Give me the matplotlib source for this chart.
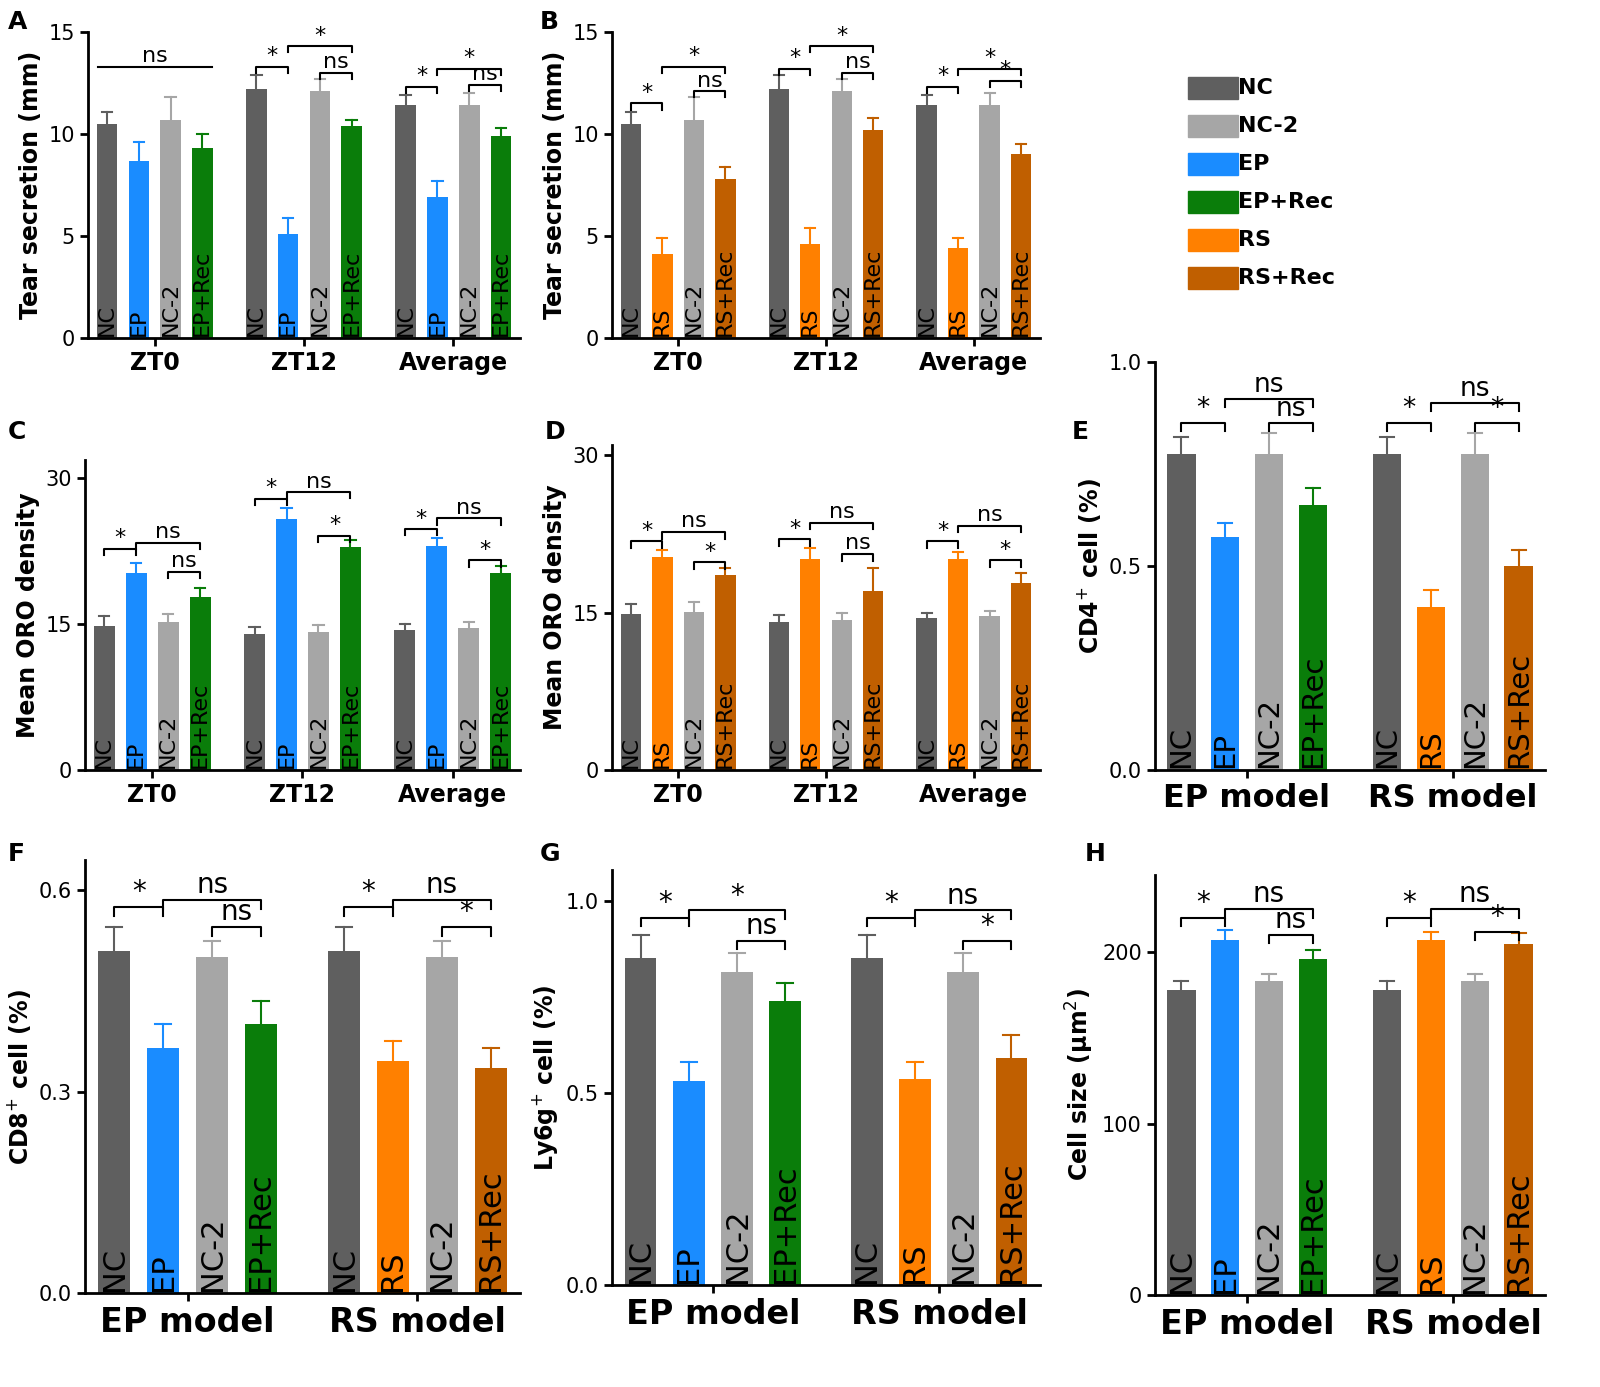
import numpy as np
import matplotlib
matplotlib.use("Agg")
import matplotlib.pyplot as plt

plt.rcParams['font.family'] = ['DejaVu Sans']

W, H = 1600, 1387

C_NC, C_NC2 = '#5f5f5f', '#a6a6a6'
C_EP, C_EPR = '#1a8cff', '#0a7d0a'
C_RS, C_RSR = '#ff8000', '#c05f00'

# ---- data ----
groups_zt = ['ZT0', 'ZT12', 'Average']
groups_model = ['EP model', 'RS model']
labels_ep = ['NC', 'EP', 'NC-2', 'EP+Rec']
labels_rs = ['NC', 'RS', 'NC-2', 'RS+Rec']

a_vals = [[10.5, 8.7, 10.7, 9.3], [12.2, 5.1, 12.1, 10.4], [11.4, 6.9, 11.4, 9.9]]
a_errs = [[0.6, 0.9, 1.1, 0.7], [0.7, 0.8, 0.6, 0.3], [0.5, 0.8, 0.6, 0.4]]
b_vals = [[10.5, 4.1, 10.7, 7.8], [12.2, 4.6, 12.1, 10.2], [11.4, 4.4, 11.4, 9.0]]
b_errs = [[0.6, 0.8, 1.1, 0.6], [0.7, 0.8, 0.6, 0.6], [0.5, 0.5, 0.6, 0.5]]
c_vals = [[14.8, 20.2, 15.2, 17.7], [13.9, 25.7, 14.2, 22.9], [14.4, 23.0, 14.6, 20.2]]
c_errs = [[1.0, 1.0, 0.8, 1.0], [0.8, 1.2, 0.7, 0.7], [0.6, 0.8, 0.6, 0.7]]
d_vals = [[14.9, 20.3, 15.1, 18.6], [14.1, 20.1, 14.3, 17.1], [14.5, 20.1, 14.7, 17.8]]
d_errs = [[0.9, 0.7, 0.9, 0.7], [0.7, 1.1, 0.7, 2.2], [0.5, 0.7, 0.5, 1.0]]
e_vals = [[0.775, 0.57, 0.775, 0.65], [0.775, 0.40, 0.775, 0.50]]
e_errs = [[0.04, 0.035, 0.05, 0.04], [0.04, 0.04, 0.05, 0.04]]
f_vals = [[0.51, 0.365, 0.50, 0.40], [0.51, 0.345, 0.50, 0.335]]
f_errs = [[0.035, 0.035, 0.025, 0.035], [0.035, 0.03, 0.025, 0.03]]
g_vals = [[0.85, 0.53, 0.815, 0.74], [0.85, 0.535, 0.815, 0.59]]
g_errs = [[0.06, 0.05, 0.05, 0.045], [0.06, 0.045, 0.05, 0.06]]
h_vals = [[178, 207, 183, 196], [178, 207, 183, 205]]
h_errs = [[5, 6, 4, 5], [5, 5, 4, 6]]

# brackets per group: (bar_i, bar_j, height, text)
a_br = [[(0, 3, 13.3, 'ns')],
        [(0, 1, 13.3, '*'), (1, 3, 14.3, '*'), (2, 3, 13.0, 'ns')],
        [(0, 1, 12.3, '*'), (1, 3, 13.2, '*'), (2, 3, 12.4, 'ns')]]
b_br = [[(0, 1, 11.5, '*'), (1, 3, 13.3, '*'), (2, 3, 12.1, 'ns')],
        [(0, 1, 13.2, '*'), (1, 3, 14.3, '*'), (2, 3, 13.0, 'ns')],
        [(0, 1, 12.3, '*'), (1, 3, 13.2, '*'), (2, 3, 12.6, '*')]]
c_br = [[(0, 1, 22.7, '*'), (1, 3, 23.3, 'ns'), (2, 3, 20.3, 'ns')],
        [(0, 1, 27.8, '*'), (1, 3, 28.5, 'ns'), (2, 3, 24.0, '*')],
        [(0, 1, 24.7, '*'), (1, 3, 25.8, 'ns'), (2, 3, 21.5, '*')]]
d_br = [[(0, 1, 21.8, '*'), (1, 3, 22.7, 'ns'), (2, 3, 19.8, '*')],
        [(0, 1, 22.0, '*'), (1, 3, 23.6, 'ns'), (2, 3, 20.6, 'ns')],
        [(0, 1, 21.8, '*'), (1, 3, 23.3, 'ns'), (2, 3, 20.0, '*')]]
e_br = [[(0, 1, 0.85, '*'), (1, 3, 0.91, 'ns'), (2, 3, 0.85, 'ns')],
        [(0, 1, 0.85, '*'), (1, 3, 0.90, 'ns'), (2, 3, 0.85, '*')]]
f_br = [[(0, 1, 0.575, '*'), (1, 3, 0.585, 'ns'), (2, 3, 0.545, 'ns')],
        [(0, 1, 0.575, '*'), (1, 3, 0.585, 'ns'), (2, 3, 0.545, '*')]]
g_br = [[(0, 1, 0.955, '*'), (1, 3, 0.975, '*'), (2, 3, 0.895, 'ns')],
        [(0, 1, 0.955, '*'), (1, 3, 0.975, 'ns'), (2, 3, 0.895, '*')]]
h_br = [[(0, 1, 220, '*'), (1, 3, 225, 'ns'), (2, 3, 210, 'ns')],
        [(0, 1, 220, '*'), (1, 3, 225, 'ns'), (2, 3, 212, '*')]]

fig = plt.figure(figsize=(W / 100, H / 100), dpi=100)


def add_ax(l, r, t, b):
    return fig.add_axes([l / W, 1 - b / H, (r - l) / W, (b - t) / H])


def panel(ax, vals, errs, label_sets, color_sets, groups, brs, ylim, yticks, ylabel,
          lab_fs, grp_fs, gpitch=4.7, bw=0.65, star_fs=16, tick_fs=15, yl_fs=17):
    for g, (v, e) in enumerate(zip(vals, errs)):
        xs = g * gpitch + np.arange(4)
        colors = color_sets[g]
        labels = label_sets[g]
        ax.bar(xs, v, width=bw, color=colors, zorder=2)
        for x, vv, ee, c, lb in zip(xs, v, e, colors, labels):
            ax.plot([x, x], [vv, vv + ee], color=c, lw=1.5, zorder=1)
            ax.plot([x - bw / 4, x + bw / 4], [vv + ee] * 2, color=c, lw=1.5)
            ax.text(x, ylim[1] * 0.005, lb, rotation=90, ha='center', va='bottom',
                    fontsize=lab_fs, color='black', zorder=3)
        d = (ylim[1] - ylim[0]) * 0.02
        for i, j, h, t in brs[g]:
            x1, x2 = xs[i], xs[j]
            if len(brs[g]) == 1:
                ax.plot([x1 - 0.3, x2 + 0.3], [h, h], color='black', lw=1.5, clip_on=False)
            else:
                ax.plot([x1, x1, x2, x2], [h - d, h, h, h - d], color='black', lw=1.5, clip_on=False)
            ax.text((x1 + x2) / 2, h + d * 0.1, t, ha='center', va='bottom',
                    fontsize=star_fs, clip_on=False)
    ax.set_xticks([g * gpitch + 1.5 for g in range(len(groups))])
    ax.set_xticklabels(groups, fontsize=grp_fs, fontweight='bold')
    ax.set_xlim(-0.6, (len(groups) - 1) * gpitch + 3.6)
    ax.set_ylim(*ylim)
    ax.set_yticks(yticks)
    ax.tick_params(axis='y', labelsize=tick_fs, width=2, length=6)
    ax.tick_params(axis='x', width=2, length=6)
    ax.set_ylabel(ylabel, fontsize=yl_fs, fontweight='bold')
    for s in ['top', 'right']:
        ax.spines[s].set_visible(False)
    for s in ['left', 'bottom']:
        ax.spines[s].set_linewidth(2)


ep_cols = [C_NC, C_EP, C_NC2, C_EPR]
rs_cols = [C_NC, C_RS, C_NC2, C_RSR]

axA = add_ax(88, 520, 32, 338)
panel(axA, a_vals, a_errs, [labels_ep] * 3, [ep_cols] * 3, groups_zt, a_br, (0, 15), [0, 5, 10, 15],
      'Tear secretion (mm)', 16, 17)
axB = add_ax(612, 1040, 32, 338)
panel(axB, b_vals, b_errs, [labels_rs] * 3, [rs_cols] * 3, groups_zt, b_br, (0, 15), [0, 5, 10, 15],
      'Tear secretion (mm)', 16, 17)
axC = add_ax(85, 520, 460, 770)
panel(axC, c_vals, c_errs, [labels_ep] * 3, [ep_cols] * 3, groups_zt, c_br, (0, 31.8), [0, 15, 30],
      'Mean ORO density', 16, 17)
axD = add_ax(612, 1040, 445, 770)
panel(axD, d_vals, d_errs, [labels_rs] * 3, [rs_cols] * 3, groups_zt, d_br, (0, 31), [0, 15, 30],
      'Mean ORO density', 16, 17)

model_labels = [labels_ep, labels_rs]
model_cols = [ep_cols, rs_cols]
axE = add_ax(1155, 1545, 362, 770)
panel(axE, e_vals, e_errs, model_labels, model_cols, groups_model, e_br, (0, 1.0), [0, 0.5, 1.0],
      'CD4$^{+}$ cell (%)', 21, 23, star_fs=19)
axF = add_ax(85, 520, 860, 1293)
panel(axF, f_vals, f_errs, model_labels, model_cols, groups_model, f_br, (0, 0.645), [0, 0.3, 0.6],
      'CD8$^{+}$ cell (%)', 22, 24, star_fs=20)
axG = add_ax(612, 1040, 870, 1285)
panel(axG, g_vals, g_errs, model_labels, model_cols, groups_model, g_br, (0, 1.08), [0, 0.5, 1.0],
      'Ly6g$^{+}$ cell (%)', 22, 24, star_fs=20)
axH = add_ax(1155, 1545, 875, 1295)
panel(axH, h_vals, h_errs, model_labels, model_cols, groups_model, h_br, (0, 245), [0, 100, 200],
      'Cell size (μm$^{2}$)', 22, 24, star_fs=20)

for lt, px, py in [('A', 8, 10), ('B', 540, 10), ('C', 8, 420), ('D', 545, 420),
                   ('E', 1072, 420), ('F', 8, 842), ('G', 540, 842), ('H', 1085, 842)]:
    fig.text(px / W, 1 - py / H, lt, fontsize=18, fontweight='bold', va='top')

# legend
leg_names = ['NC', 'NC-2', 'EP', 'EP+Rec', 'RS', 'RS+Rec']
leg_cols = [C_NC, C_NC2, C_EP, C_EPR, C_RS, C_RSR]
for k, (n, c) in enumerate(zip(leg_names, leg_cols)):
    y = 88 + k * 38
    fig.patches.append(plt.Rectangle((1188 / W, 1 - (y + 11) / H), 50 / W, 22 / H,
                                     transform=fig.transFigure, color=c))
    fig.text(1238 / W, 1 - y / H, n, fontsize=16, fontweight='bold', va='center')

fig.savefig('out.png', dpi=100)
